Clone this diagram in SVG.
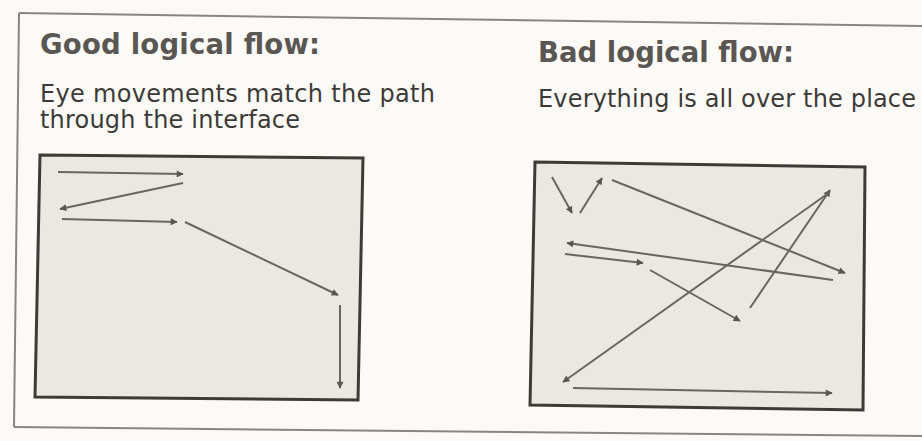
<svg xmlns="http://www.w3.org/2000/svg" width="922" height="441" viewBox="0 0 922 441">
<defs>
<style>
.head{font-family:"DejaVu Sans",Verdana,sans-serif;font-weight:bold;fill:#5a5753}
.sub{font-family:"DejaVu Sans",Verdana,sans-serif;fill:#3c3a37}
.frame{fill:none;stroke:#8a8580;stroke-width:2}
.panel{fill:#ebe8e3;stroke:#3e3a34;stroke-width:3}
.arr{stroke:#6a655f;stroke-width:2;fill:none;marker-end:url(#ah)}
</style>
<marker id="ah" viewBox="0 0 10 10" refX="9" refY="5" markerWidth="9" markerHeight="7" markerUnits="userSpaceOnUse" orient="auto">
<path d="M0,0 L10,5 L0,10 z" fill="#5a554f"/>
</marker>
</defs>
<rect width="922" height="441" fill="#fcfaf7"/>
<g id="outer-frame">
<path class="frame" d="M19,13 L922,26"/>
<path class="frame" d="M19,13 L14,427"/>
<path class="frame" d="M14,427 L922,436"/>
</g>
<g id="good-title">
<text class="head" x="40" y="54" font-size="27.5" textLength="280">Good logical flow:</text>
<text class="sub" x="40" y="102" font-size="24" textLength="395">Eye movements match the path</text>
<text class="sub" x="40" y="128" font-size="24" textLength="260">through the interface</text>
</g>
<g id="bad-title">
<text class="head" x="538" y="62" font-size="27.5" textLength="256">Bad logical flow:</text>
<text class="sub" x="538" y="107" font-size="24" textLength="378">Everything is all over the place</text>
</g>
<g id="good-panel">
<polygon class="panel" points="40,155 363,158 358,400 35,397"/>
</g>
<g id="bad-panel">
<polygon class="panel" points="535,162 865,167 863,410 530,405"/>
</g>
<g id="connectors">
<line class="arr" x1="58" y1="172" x2="183" y2="174"/>
<line class="arr" x1="183" y1="183" x2="60" y2="209"/>
<line class="arr" x1="62" y1="219" x2="177" y2="222"/>
<line class="arr" x1="185" y1="222" x2="338" y2="295"/>
<line class="arr" x1="340" y1="305" x2="340" y2="388"/>
<line class="arr" x1="552" y1="177" x2="572" y2="213"/>
<line class="arr" x1="580" y1="213" x2="602" y2="178"/>
<line class="arr" x1="612" y1="180" x2="845" y2="273"/>
<line class="arr" x1="833" y1="280" x2="567" y2="243"/>
<line class="arr" x1="565" y1="254" x2="643" y2="263"/>
<line class="arr" x1="650" y1="270" x2="740" y2="321"/>
<line class="arr" x1="750" y1="308" x2="830" y2="190"/>
<line class="arr" x1="830" y1="192" x2="563" y2="382"/>
<line class="arr" x1="573" y1="388" x2="832" y2="393"/>
</g>
</svg>
